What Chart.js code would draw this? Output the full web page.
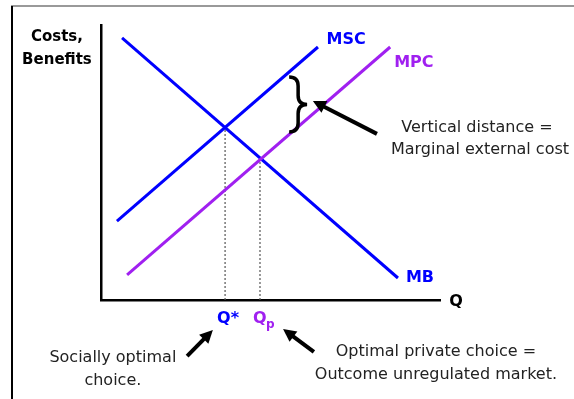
<!DOCTYPE html>
<html>
<head>
<meta charset="utf-8">
<script src="https://cdn.jsdelivr.net/npm/chart.js@4"></script>
<style>
  body { margin: 0; background: #fff; }
  canvas { display: block; }
</style>
</head>
<body>
<canvas id="extChart" width="574" height="399"></canvas>
<script>
// curves: [x, y] end points in chart units (Q 0..100, cost 0..100)
var mbPoints = [[6.2, 95.3], [87.6, 8.0]];
var mscPoints = [[4.7, 28.7], [64.0, 92.0]];
var mpcPoints = [[7.7, 9.1], [85.3, 92.0]];

// equilibria
var qStar = [36.6, 62.9];
var qPrivate = [46.9, 51.6];

var curveLabels = ['MSC', 'MPC', 'MB'];
var axisLabels = ['Costs,', 'Benefits', 'Q'];
var noteVertical = ['Vertical distance =', 'Marginal external cost'];
var noteSocial = ['Socially optimal', 'choice.'];
var notePrivate = ['Optimal private choice =', 'Outcome unregulated market.'];

var BLUE = '#0000ff';
var PURPLE = '#a020f0';
var FONT = '"DejaVu Sans", sans-serif';

function toXY(arr) {
    return arr.map(function (p) { return { x: p[0], y: p[1] }; });
}

function arrow(ctx, x0, y0, x1, y1) {
    var ang = Math.atan2(y1 - y0, x1 - x0);
    var head = 13;
    ctx.save();
    ctx.strokeStyle = '#000';
    ctx.fillStyle = '#000';
    ctx.lineWidth = 4;
    ctx.beginPath();
    ctx.moveTo(x0, y0);
    ctx.lineTo(x1 - Math.cos(ang) * head * 0.8, y1 - Math.sin(ang) * head * 0.8);
    ctx.stroke();
    ctx.beginPath();
    ctx.moveTo(x1, y1);
    ctx.lineTo(x1 - head * Math.cos(ang) + 6.5 * Math.sin(ang), y1 - head * Math.sin(ang) - 6.5 * Math.cos(ang));
    ctx.lineTo(x1 - head * Math.cos(ang) - 6.5 * Math.sin(ang), y1 - head * Math.sin(ang) + 6.5 * Math.cos(ang));
    ctx.closePath();
    ctx.fill();
    ctx.restore();
}

function brace(ctx, x0, x1, yT, yB) {
    var xm = x0 + (x1 - x0) * 0.5;
    var yM = (yT + yB) / 2;
    var r = 9;
    ctx.save();
    ctx.strokeStyle = '#000';
    ctx.lineWidth = 3.5;
    ctx.beginPath();
    ctx.moveTo(x0, yT);
    ctx.quadraticCurveTo(xm, yT, xm, yT + r);
    ctx.lineTo(xm, yM - r);
    ctx.quadraticCurveTo(xm, yM, x1, yM);
    ctx.quadraticCurveTo(xm, yM, xm, yM + r);
    ctx.lineTo(xm, yB - r);
    ctx.quadraticCurveTo(xm, yB, x0, yB);
    ctx.stroke();
    ctx.restore();
}

var annotations = {
    id: 'annotations',
    beforeDraw: function (chart) {
        var ctx = chart.ctx;
        ctx.save();
        ctx.fillStyle = '#999';
        ctx.fillRect(11, 5, 563, 2);
        ctx.fillStyle = '#000';
        ctx.fillRect(11, 6, 2, 393);
        ctx.restore();
    },
    afterDatasetsDraw: function (chart) {
        var ctx = chart.ctx;
        var xs = chart.scales.x, ys = chart.scales.y;
        var px = function (v) { return xs.getPixelForValue(v); };
        var py = function (v) { return ys.getPixelForValue(v); };

        ctx.save();
        ctx.textAlign = 'center';
        ctx.textBaseline = 'middle';

        ctx.font = 'bold 16px ' + FONT;
        ctx.fillStyle = BLUE;
        ctx.fillText(curveLabels[0], px(72.3), py(94.5));
        ctx.fillStyle = PURPLE;
        ctx.fillText(curveLabels[1], px(92.3), py(86.2));
        ctx.fillStyle = BLUE;
        ctx.fillText(curveLabels[2], px(94.1), py(8.0));
        ctx.fillStyle = '#000';
        ctx.fillText(axisLabels[2], px(104.7), py(-0.7));

        ctx.font = 'bold 15px ' + FONT;
        ctx.fillText(axisLabels[0], px(-13), py(95.6));
        ctx.fillText(axisLabels[1], px(-13), py(87.3));

        // Q* and Qp under the axis
        ctx.font = 'bold 16px ' + FONT;
        ctx.fillStyle = BLUE;
        ctx.fillText('Q*', px(qStar[0]) + 3, py(-6.9));
        ctx.fillStyle = PURPLE;
        ctx.textAlign = 'left';
        ctx.fillText('Q', px(qPrivate[0]) - 7, py(-6.9));
        ctx.font = 'bold 12px ' + FONT;
        ctx.fillText('p', px(qPrivate[0]) + 6, py(-8.9));

        ctx.textAlign = 'center';
        ctx.font = '16px ' + FONT;
        ctx.fillStyle = '#222';
        ctx.fillText(noteVertical[0], px(110.9), py(62.5));
        ctx.fillText(noteVertical[1], px(111.8), py(54.5));
        ctx.fillText(noteSocial[0], px(3.5), py(-21.1));
        ctx.fillText(noteSocial[1], px(3.5), py(-29.5));
        ctx.fillText(notePrivate[0], px(98.8), py(-18.9));
        ctx.fillText(notePrivate[1], px(98.8), py(-27.3));
        ctx.restore();

        brace(ctx, px(55.5), px(60.8), py(81.1), py(61.1));
        arrow(ctx, px(81.4), py(60.4), px(62.5), py(72.4));
        arrow(ctx, px(25.4), py(-20.4), px(33.0), py(-10.9));
        arrow(ctx, px(62.8), py(-18.9), px(53.7), py(-10.5));
    }
};

var lineStyle = { showLine: true, pointRadius: 0, borderWidth: 3, fill: false };

new Chart(document.getElementById('extChart').getContext('2d'), {
    type: 'scatter',
    data: {
        datasets: [
            Object.assign({ label: 'MSC', data: toXY(mscPoints), borderColor: BLUE }, lineStyle),
            Object.assign({ label: 'MPC', data: toXY(mpcPoints), borderColor: PURPLE }, lineStyle),
            Object.assign({ label: 'MB', data: toXY(mbPoints), borderColor: BLUE }, lineStyle),
            {
                label: 'Q*', data: toXY([[qStar[0], 0], qStar]), showLine: true, pointRadius: 0,
                borderColor: '#555', borderWidth: 1.2, borderDash: [2, 2]
            },
            {
                label: 'Qp', data: toXY([[qPrivate[0], 0], qPrivate]), showLine: true, pointRadius: 0,
                borderColor: '#555', borderWidth: 1.2, borderDash: [2, 2]
            }
        ]
    },
    options: {
        responsive: false,
        animation: false,
        devicePixelRatio: 1,
        layout: { padding: { left: 93, top: 25, right: 134, bottom: 91 } },
        scales: {
            x: {
                type: 'linear', min: 0, max: 100,
                ticks: { display: false },
                grid: { display: false },
                border: { display: true, color: '#000', width: 2.5 }
            },
            y: {
                type: 'linear', min: 0, max: 100,
                ticks: { display: false },
                grid: { display: false },
                border: { display: true, color: '#000', width: 2.5 }
            }
        },
        plugins: {
            legend: { display: false },
            tooltip: { enabled: false }
        }
    },
    plugins: [annotations]
});
</script>
</body>
</html>
